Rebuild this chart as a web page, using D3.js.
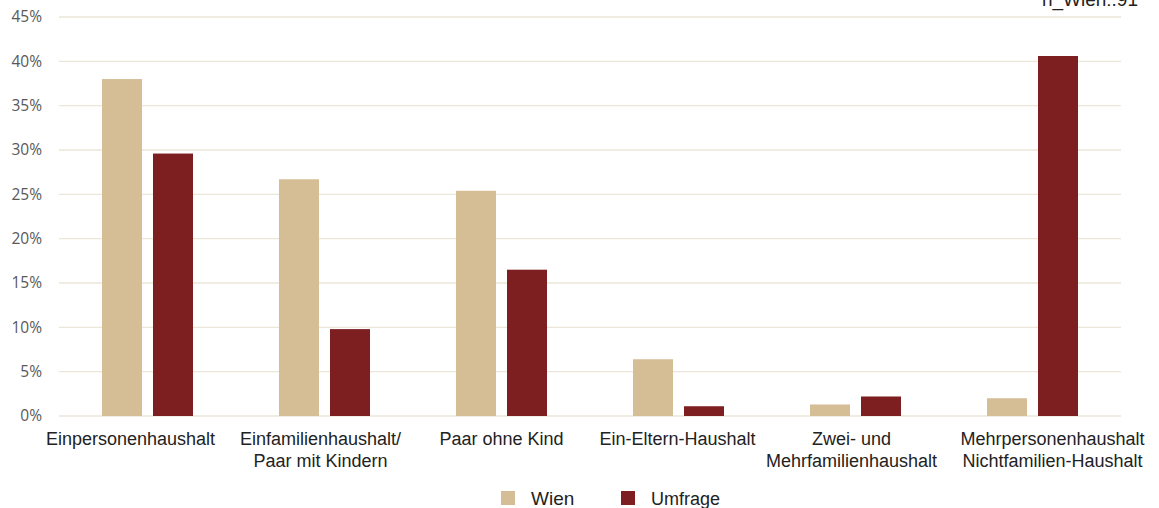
<!DOCTYPE html>
<html>
<head>
<meta charset="utf-8">
<script src="https://cdn.jsdelivr.net/npm/d3@7"></script>
<style>
  html, body { margin: 0; padding: 0; background: #fff; }
  svg { display: block; }
</style>
</head>
<body>
<svg id="chart" width="1159" height="508"></svg>
<script>
const categories = [
  ["Einpersonenhaushalt"],
  ["Einfamilienhaushalt/", "Paar mit Kindern"],
  ["Paar ohne Kind"],
  ["Ein-Eltern-Haushalt"],
  ["Zwei- und", "Mehrfamilienhaushalt"],
  ["Mehrpersonenhaushalt", "Nichtfamilien-Haushalt"]
];
const seriesNames = ["Wien", "Umfrage"];
const wienValues = [38.0, 26.7, 25.4, 6.4, 1.3, 2.0];
const umfrageValues = [29.6, 9.8, 16.5, 1.1, 2.2, 40.6];
const yTicks = [0, 5, 10, 15, 20, 25, 30, 35, 40, 45];
const noteText = "n_Wien:.91";

(function () {
const colors = { "Wien": "#D5BD96", "Umfrage": "#7D1E20" };
const labelShift = [-17, -4, 0, -1, -4, 20];
const svg = d3.select("#chart");
const mLeft = 59, mRight = 1121, mTop = 17, mBottom = 416;

const catKeys = categories.map(c => c.join(" "));
const x0 = d3.scaleBand().domain(catKeys).range([mLeft, mRight]).padding(0);
const groupW = 91;
const x1 = d3.scaleBand().domain(seriesNames).range([0, groupW]).paddingInner(11 / 51).paddingOuter(0);
const y = d3.scaleLinear().domain([0, 45]).range([mBottom, mTop]);

// gridlines
svg.append("g").selectAll("line").data(yTicks).join("line")
  .attr("x1", mLeft).attr("x2", mRight)
  .attr("y1", d => y(d)).attr("y2", d => y(d))
  .attr("stroke", "#ECE6D8").attr("stroke-width", 1.3);

// y axis labels
const yAxis = d3.axisLeft(y).tickValues(yTicks).tickFormat(d => d + "%").tickSize(0).tickPadding(0);
const yg = svg.append("g").attr("transform", `translate(${42},0)`).call(yAxis);
yg.select(".domain").remove();
yg.selectAll("text").attr("font-family", "'Open Sans', sans-serif").attr("font-size", 15.5).attr("fill", "#595959");

// bars
const data = catKeys.map((k, i) => ({ key: k, values: [
  { s: "Wien", v: wienValues[i] }, { s: "Umfrage", v: umfrageValues[i] } ] }));
const offset = (x0.bandwidth() - groupW) / 2;
svg.append("g").selectAll("g").data(data).join("g")
  .attr("transform", d => `translate(${x0(d.key) + offset},0)`)
  .selectAll("rect").data(d => d.values).join("rect")
  .attr("x", d => x1(d.s)).attr("width", x1.bandwidth())
  .attr("y", d => y(d.v)).attr("height", d => y(0) - y(d.v))
  .attr("fill", d => colors[d.s]);

// category labels
const xg = svg.append("g");
categories.forEach((lines, i) => {
  const cx = x0(catKeys[i]) + x0.bandwidth() / 2 + labelShift[i];
  const t = xg.append("text").attr("text-anchor", "middle")
    .attr("font-family", "'Liberation Sans', Arial, sans-serif").attr("font-size", 18).attr("fill", "#222");
  lines.forEach((ln, j) => {
    t.append("tspan").attr("x", cx).attr("y", 445 + j * 22).text(ln);
  });
});

// legend
const legendItems = [
  { s: "Wien", x: 501, tx: 531, fs: 19 },
  { s: "Umfrage", x: 621, tx: 651, fs: 18 }
];
const lg = svg.append("g");
legendItems.forEach(it => {
  lg.append("rect").attr("x", it.x).attr("y", 491).attr("width", 14).attr("height", 14).attr("fill", colors[it.s]);
  lg.append("text").attr("x", it.tx).attr("y", 505)
    .attr("font-family", "'Liberation Sans', Arial, sans-serif").attr("font-size", it.fs).attr("fill", "#222").text(it.s);
});

// cut-off note top right
svg.append("text").attr("x", 1138).attr("y", 6).attr("text-anchor", "end")
  .attr("font-family", "'Liberation Sans', Arial, sans-serif").attr("font-size", 19).attr("fill", "#222").text(noteText);
})();
</script>
</body>
</html>
